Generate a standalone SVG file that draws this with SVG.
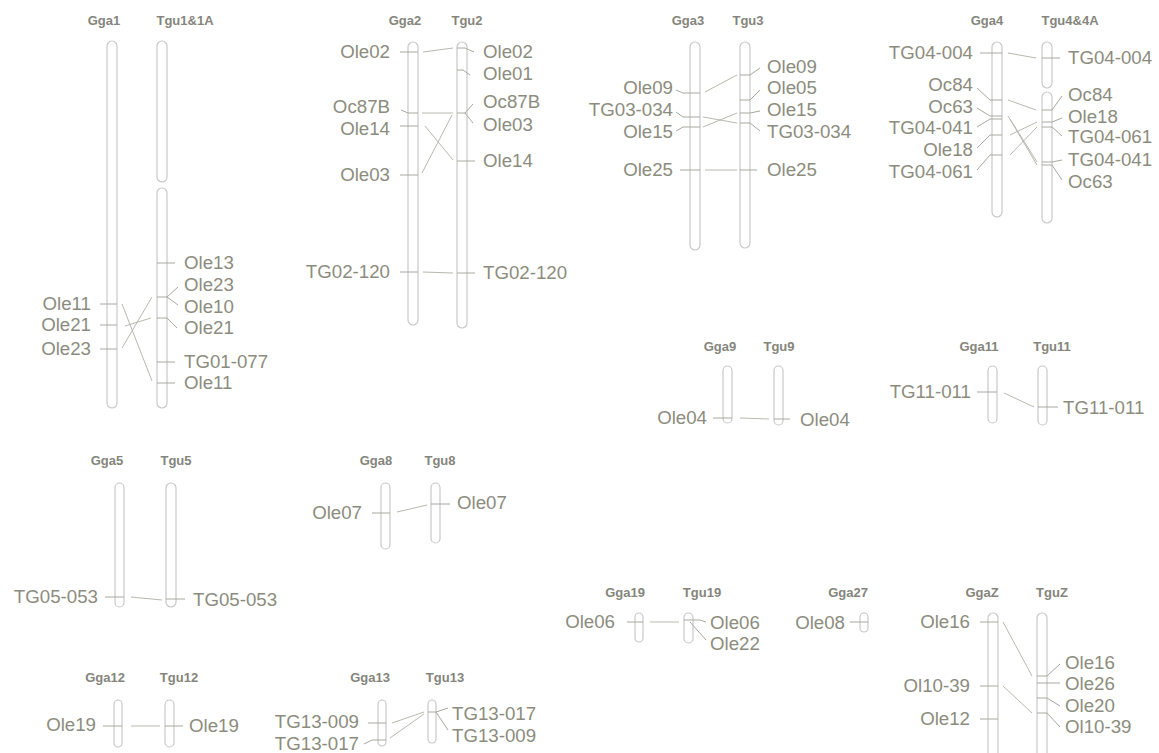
<svg xmlns="http://www.w3.org/2000/svg" width="1159" height="753" viewBox="0 0 1159 753">
<style>
.bg{fill:#fff}
.chr{fill:#fff;stroke:#c8c8c8;stroke-width:1.2}
.tk{stroke:#a8a8a0;stroke-width:1;fill:none}
.cn{stroke:#b8b8b0;stroke-width:1;fill:none}
.lb{font-family:"Liberation Sans",Arial,sans-serif;font-size:18.7px;fill:#8c8c7e}
.hd{font-family:"Liberation Sans",Arial,sans-serif;font-size:13px;font-weight:bold;fill:#85857c;text-anchor:middle}
.e{text-anchor:end}
</style>
<rect class="bg" width="1159" height="753"/>

<g id="pair1">
<text class="hd" x="104" y="25">Gga1</text><text class="hd" x="185" y="25">Tgu1&amp;1A</text>
<rect class="chr" x="107" y="41" width="10" height="367" rx="5"/>
<rect class="chr" x="157" y="41" width="10" height="141" rx="5"/>
<rect class="chr" x="157" y="188" width="10" height="220" rx="5"/>
<path class="tk" d="M100 304H117M100 325H117M100 349H117M157 263H175M157 297H167L178 287M167 297L178 305M157 318H167L177 328M157 362H175M157 383H175"/>
<text class="lb e" x="91" y="310">Ole11</text><text class="lb e" x="91" y="331">Ole21</text><text class="lb e" x="91" y="355">Ole23</text>
<text class="lb" x="184" y="269">Ole13</text><text class="lb" x="184" y="291">Ole23</text><text class="lb" x="184" y="313">Ole10</text><text class="lb" x="184" y="334">Ole21</text><text class="lb" x="184" y="368">TG01-077</text><text class="lb" x="184" y="389">Ole11</text>
</g>

<g id="pair2">
<text class="hd" x="405" y="25">Gga2</text><text class="hd" x="467" y="25">Tgu2</text>
<rect class="chr" x="408" y="42" width="10" height="283" rx="5"/>
<rect class="chr" x="457" y="42" width="10" height="286" rx="5"/>
<path class="tk" d="M400 52H418M401 110L408 113H418M400 126H418M400 175H418M400 272H418M457 48H465L474 52M457 70H463L470 75M457 113H465L473 104M465 113L473 123M457 161H475M457 273H475"/>
<text class="lb e" x="390" y="58">Ole02</text><text class="lb e" x="390" y="113">Oc87B</text><text class="lb e" x="390" y="135">Ole14</text><text class="lb e" x="390" y="181">Ole03</text><text class="lb e" x="390" y="278">TG02-120</text>
<text class="lb" x="483" y="58">Ole02</text><text class="lb" x="483" y="80">Ole01</text><text class="lb" x="483" y="108">Oc87B</text><text class="lb" x="483" y="131">Ole03</text><text class="lb" x="483" y="167">Ole14</text><text class="lb" x="483" y="279">TG02-120</text>
</g>

<g id="pair3">
<text class="hd" x="688" y="25">Gga3</text><text class="hd" x="748" y="25">Tgu3</text>
<rect class="chr" x="690" y="42" width="10" height="208" rx="5"/>
<rect class="chr" x="740" y="42" width="10" height="206" rx="5"/>
<path class="tk" d="M676 90L683 93H700M676 112L683 117H700M676 131L683 127H700M680 170H700M740 75H750L760 68M740 100H750L760 90M740 113H750L760 111M740 123H750L760 131M740 170H757"/>
<text class="lb e" x="673" y="94">Ole09</text><text class="lb e" x="673" y="116">TG03-034</text><text class="lb e" x="673" y="138">Ole15</text><text class="lb e" x="673" y="176">Ole25</text>
<text class="lb" x="767" y="73">Ole09</text><text class="lb" x="767" y="94">Ole05</text><text class="lb" x="767" y="116">Ole15</text><text class="lb" x="767" y="138">TG03-034</text><text class="lb" x="767" y="176">Ole25</text>
</g>

<g id="pair4">
<text class="hd" x="987" y="25">Gga4</text><text class="hd" x="1070" y="25">Tgu4&amp;4A</text>
<rect class="chr" x="992" y="42" width="10" height="175" rx="5"/>
<rect class="chr" x="1042" y="42" width="10" height="46" rx="5"/>
<rect class="chr" x="1042" y="92" width="10" height="131" rx="5"/>
<path class="tk" d="M980 53H1002M977 88L990 100H1002M977 108L990 116H1002M977 127L990 119H1002M977 148L990 135H1002M977 170L990 155H1002M1042 58H1060M1042 110H1052L1062 96M1042 122H1052L1062 118M1042 127H1052L1062 136M1042 162H1052L1062 160M1042 165H1052L1062 180"/>
<text class="lb e" x="973" y="59">TG04-004</text><text class="lb e" x="973" y="91">Oc84</text><text class="lb e" x="973" y="113">Oc63</text><text class="lb e" x="973" y="134">TG04-041</text><text class="lb e" x="973" y="156">Ole18</text><text class="lb e" x="973" y="178">TG04-061</text>
<text class="lb" x="1068" y="64">TG04-004</text><text class="lb" x="1068" y="101">Oc84</text><text class="lb" x="1068" y="123">Ole18</text><text class="lb" x="1068" y="143">TG04-061</text><text class="lb" x="1068" y="166">TG04-041</text><text class="lb" x="1068" y="188">Oc63</text>
</g>

<g id="pair9">
<text class="hd" x="720" y="351">Gga9</text><text class="hd" x="779" y="351">Tgu9</text>
<rect class="chr" x="723" y="366" width="9" height="57" rx="4.5"/>
<rect class="chr" x="774" y="366" width="9" height="59" rx="4.5"/>
<path class="tk" d="M713 418H732M774 419H790"/>
<text class="lb e" x="707" y="424">Ole04</text><text class="lb" x="800" y="426">Ole04</text>
</g>

<g id="pair11">
<text class="hd" x="979" y="351">Gga11</text><text class="hd" x="1052" y="351">Tgu11</text>
<rect class="chr" x="988" y="366" width="9" height="57" rx="4.5"/>
<rect class="chr" x="1038" y="366" width="9" height="59" rx="4.5"/>
<path class="tk" d="M977 392H997M1038 407H1058"/>
<text class="lb e" x="971" y="398">TG11-011</text><text class="lb" x="1063" y="414">TG11-011</text>
</g>

<g id="pair5">
<text class="hd" x="107" y="465">Gga5</text><text class="hd" x="176" y="465">Tgu5</text>
<rect class="chr" x="115" y="483" width="9" height="124" rx="4.5"/>
<rect class="chr" x="166" y="483" width="10" height="124" rx="5"/>
<path class="tk" d="M105 597H124M166 599H185"/>
<text class="lb e" x="98" y="603">TG05-053</text><text class="lb" x="193" y="606">TG05-053</text>
</g>

<g id="pair8">
<text class="hd" x="376" y="465">Gga8</text><text class="hd" x="440" y="465">Tgu8</text>
<rect class="chr" x="381" y="483" width="9" height="66" rx="4.5"/>
<rect class="chr" x="431" y="483" width="9" height="60" rx="4.5"/>
<path class="tk" d="M372 513H390M431 504H450"/>
<text class="lb e" x="362" y="519">Ole07</text><text class="lb" x="457" y="509">Ole07</text>
</g>

<g id="pair19">
<text class="hd" x="625" y="597">Gga19</text><text class="hd" x="702" y="597">Tgu19</text>
<rect class="chr" x="635" y="613" width="8" height="29" rx="4"/>
<rect class="chr" x="684" y="613" width="9" height="30" rx="4.5"/>
<path class="tk" d="M627 622H643M684 620H700L706 622M690 622L706 640"/>
<text class="lb e" x="615" y="628">Ole06</text><text class="lb" x="710" y="629">Ole06</text><text class="lb" x="710" y="650">Ole22</text>
</g>

<g id="chr27">
<text class="hd" x="848" y="597">Gga27</text>
<rect class="chr" x="860" y="613" width="8" height="19" rx="4"/>
<path class="tk" d="M850 622H868"/>
<text class="lb e" x="845" y="629">Ole08</text>
</g>

<g id="pairZ">
<text class="hd" x="982" y="597">GgaZ</text><text class="hd" x="1052" y="597">TguZ</text>
<rect class="chr" x="988" y="613" width="10" height="150" rx="5"/>
<rect class="chr" x="1037" y="613" width="10" height="150" rx="5"/>
<path class="tk" d="M980 622H998M980 686H998M980 719H998M1037 676H1047L1060 664M1037 683H1060M1037 698H1047L1060 706M1037 713H1047L1060 727"/>
<text class="lb e" x="970" y="628">Ole16</text><text class="lb e" x="970" y="692">Ol10-39</text><text class="lb e" x="970" y="725">Ole12</text>
<text class="lb" x="1065" y="669">Ole16</text><text class="lb" x="1065" y="690">Ole26</text><text class="lb" x="1065" y="712">Ole20</text><text class="lb" x="1065" y="733">Ol10-39</text>
</g>

<g id="pair12">
<text class="hd" x="105" y="682">Gga12</text><text class="hd" x="179" y="682">Tgu12</text>
<rect class="chr" x="114" y="700" width="8" height="47" rx="4"/>
<rect class="chr" x="165" y="700" width="9" height="47" rx="4.5"/>
<path class="tk" d="M103 726H122M165 726H183"/>
<text class="lb e" x="96" y="731">Ole19</text><text class="lb" x="189" y="732">Ole19</text>
</g>

<g id="pair13">
<text class="hd" x="370" y="682">Gga13</text><text class="hd" x="445" y="682">Tgu13</text>
<rect class="chr" x="378" y="700" width="8" height="46" rx="4"/>
<rect class="chr" x="428" y="700" width="8" height="43" rx="4"/>
<path class="tk" d="M368 723H386M364 744L372 740H386M428 712H436L448 708M436 712L448 730"/>
<text class="lb e" x="359" y="728">TG13-009</text><text class="lb e" x="359" y="750">TG13-017</text>
<text class="lb" x="452" y="720">TG13-017</text><text class="lb" x="452" y="742">TG13-009</text>
</g>

<g id="connectors">
<path class="cn" d="M122 304L152 381M125 326L151 318M122 348L152 297"/>
<path class="cn" d="M423 52L453 48M422 113L453 113M425 126L453 160M422 173L452 115M423 272L453 273"/>
<path class="cn" d="M705 92L737 75M703 117L737 123M703 127L737 113M705 170L737 170"/>
<path class="cn" d="M1008 53L1036 58M1008 100L1036 110M1008 116L1037 165M1010 119L1037 162M1010 135L1037 122M1010 155L1037 127"/>
<path class="cn" d="M740 418L769 419M1004 393L1034 407"/>
<path class="cn" d="M131 597L162 600M397 512L427 505"/>
<path class="cn" d="M650 622L679 622M1003 622L1032 676M1003 686L1032 713"/>
<path class="cn" d="M131 726L160 726M392 723L424 712M390 738L424 714"/>
</g>
</svg>
